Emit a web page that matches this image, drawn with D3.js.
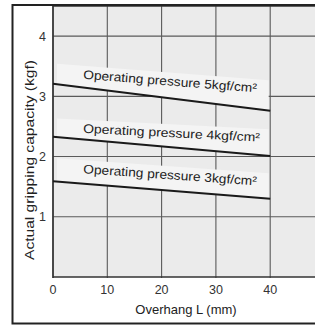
<!DOCTYPE html>
<html>
<head>
<meta charset="utf-8">
<script src="https://cdn.jsdelivr.net/npm/d3@7/dist/d3.min.js"></script>
<style>
html,body{margin:0;padding:0;background:#fff;}
svg{display:block;}
text{font-family:"Liberation Sans",Arial,Helvetica,sans-serif;}
</style>
</head>
<body>
<div id="chart"></div>
<script>
// ---- data ----
const overhang = [0, 40];                 // mm
const pressure5 = [3.21, 2.76];           // kgf
const pressure4 = [2.33, 2.01];
const pressure3 = [1.59, 1.30];
const seriesNames = ["Operating pressure 5kgf/cm²", "Operating pressure 4kgf/cm²", "Operating pressure 3kgf/cm²"];
const xTicks = [0, 10, 20, 30, 40, 50];
const yTicks = [1, 2, 3, 4];
const xTitle = "Overhang L (mm)";
const yTitle = "Actual gripping capacity (kgf)";

// ---- layout ----
const W = 315, H = 327;
const svg = d3.select("#chart").append("svg").attr("width", W).attr("height", H);

const x = d3.scaleLinear().domain([0, 50]).range([53, 324.5]);
const y = d3.scaleLinear().domain([0, 4.5]).range([277, 6]);

// plot background
svg.append("rect").attr("x", x(0)).attr("y", y(4.5))
  .attr("width", x(50) - x(0)).attr("height", y(0) - y(4.5))
  .attr("fill", "#ebebeb");

// grid
const grid = svg.append("g").attr("stroke", "#5a5a5a").attr("stroke-width", 1.1);
xTicks.forEach(t => grid.append("line")
  .attr("x1", x(t)).attr("x2", x(t)).attr("y1", y(4.5)).attr("y2", y(0) + 1));
yTicks.forEach(t => grid.append("line")
  .attr("x1", x(0)).attr("x2", x(50)).attr("y1", y(t)).attr("y2", y(t)));

const series = [pressure5, pressure4, pressure3];
// label layout (style constants)
const labelCfg = [
  {off: 8.7, angle: 4.5, len: 174},
  {off: 6.6, angle: 2.9, len: 177},
  {off: 10.5, angle: 4.0, len: 174}
];
const lineAt = (vals, px) => {
  const mm = x.invert(px);
  const v = vals[0] + (vals[1] - vals[0]) * (mm - overhang[0]) / (overhang[1] - overhang[0]);
  return y(v);
};

// label boxes covering grid
const tx0 = 83, bx0 = 57, bx1 = x(40) - 1.5;
series.forEach((vals, i) => {
  const c = labelCfg[i];
  const y0 = lineAt(vals, tx0) - c.off;
  const tn = Math.tan(c.angle * Math.PI / 180);
  const topAt = px => y0 + tn * (px - tx0) - 13;
  const pts = [[bx0, lineAt(vals, bx0)], [bx1, lineAt(vals, bx1)], [bx1, topAt(bx1)], [bx0, topAt(bx0)]];
  svg.append("polygon").attr("points", pts.map(p => p.join(",")).join(" "))
    .attr("fill", "#f4f4f4");
});

// axes lines
svg.append("line").attr("x1", x(0)).attr("x2", x(0)).attr("y1", y(4.5)).attr("y2", y(0) + 1)
  .attr("stroke", "#333").attr("stroke-width", 1.6);
svg.append("line").attr("x1", x(0)).attr("x2", x(50)).attr("y1", y(0)).attr("y2", y(0))
  .attr("stroke", "#333").attr("stroke-width", 1.6);
svg.append("line").attr("x1", x(0)).attr("x2", x(50)).attr("y1", y(4.5)).attr("y2", y(4.5))
  .attr("stroke", "#333").attr("stroke-width", 1.6);

// data lines
const lineGen = d3.line().x((d, j) => x(overhang[j])).y(d => y(d));
series.forEach(vals => {
  svg.append("path").datum(vals).attr("d", lineGen)
    .attr("fill", "none").attr("stroke", "#1a1a1a").attr("stroke-width", 2);
});

// labels
series.forEach((vals, i) => {
  const c = labelCfg[i];
  const y0 = lineAt(vals, tx0) - c.off;
  svg.append("text").attr("x", tx0).attr("y", y0)
    .attr("transform", `rotate(${c.angle},${tx0},${y0})`)
    .attr("font-size", 12.5).attr("fill", "#222")
    .attr("textLength", c.len).attr("lengthAdjust", "spacingAndGlyphs")
    .text(seriesNames[i]);
});

// tick labels
svg.append("g").selectAll("text").data(xTicks).join("text")
  .attr("x", d => x(d)).attr("y", 294).attr("text-anchor", "middle")
  .attr("font-size", 12.5).attr("fill", "#333").text(d => d);
svg.append("g").selectAll("text").data(yTicks).join("text")
  .attr("x", 46).attr("y", d => y(d) + 4.5).attr("text-anchor", "end")
  .attr("font-size", 12.5).attr("fill", "#333").text(d => d);

// titles
svg.append("text").attr("x", 186).attr("y", 314).attr("text-anchor", "middle")
  .attr("font-size", 13).attr("fill", "#222").text(xTitle);
svg.append("text").attr("transform", "translate(34,160) rotate(-90)")
  .attr("text-anchor", "middle").attr("font-size", 12.5).attr("fill", "#222")
  .attr("textLength", 200).attr("lengthAdjust", "spacingAndGlyphs").text(yTitle);

// outer frame
svg.append("rect").attr("x", 12.5).attr("y", 5).attr("width", 320).attr("height", 318.5)
  .attr("fill", "none").attr("stroke", "#222").attr("stroke-width", 2);
</script>
</body>
</html>
